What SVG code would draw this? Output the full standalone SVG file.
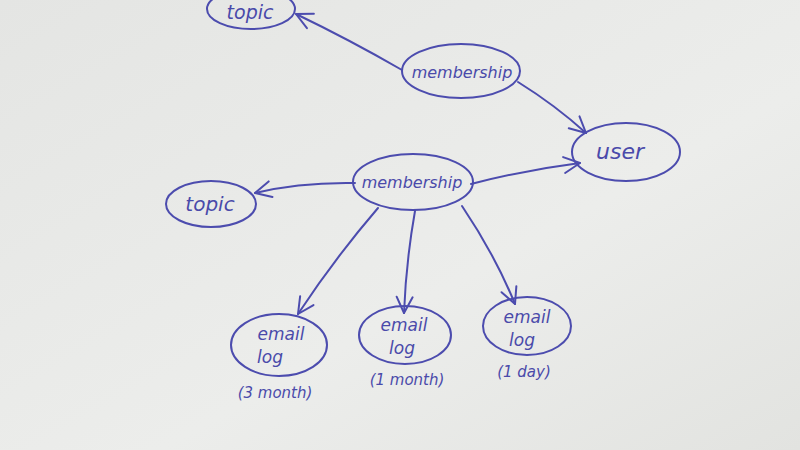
<svg xmlns="http://www.w3.org/2000/svg" width="800" height="450" viewBox="0 0 800 450">
<defs>
<linearGradient id="bg" x1="0" y1="0" x2="1" y2="1">
<stop offset="0" stop-color="#e4e5e3"/>
<stop offset="0.6" stop-color="#ecedeb"/>
<stop offset="1" stop-color="#e2e3e0"/>
</linearGradient>
<marker id="arr" viewBox="0 0 20 20" refX="18" refY="10" markerWidth="20" markerHeight="20" markerUnits="userSpaceOnUse" orient="auto">
<path d="M2,2 L18,10 L2,18" fill="none" stroke="#4c4cae" stroke-width="2" stroke-linecap="round" stroke-linejoin="round"/>
</marker>
<style>
.n{fill:none;stroke:#4c4cae;stroke-width:2}
.t{font-family:"DejaVu Sans",sans-serif;font-style:italic;fill:#4a4aaa;text-anchor:middle}
.c{fill:none;stroke:#4c4cae;stroke-width:2;stroke-linecap:round;marker-end:url(#arr)}
</style>
</defs>
<rect width="800" height="450" fill="url(#bg)"/>
<g id="connectors">
<path class="c" d="M402,70 Q350,40 296,14"/>
<path class="c" d="M518,82 Q555,105 586,133"/>
<path class="c" d="M355,183 Q300,182 255,193"/>
<path class="c" d="M471,184 Q525,170 580,163"/>
<path class="c" d="M378,208 Q335,258 298,314"/>
<path class="c" d="M415,211 Q406,262 404,313"/>
<path class="c" d="M462,206 Q495,255 515,304"/>
</g>
<g id="topic-top">
<ellipse class="n" cx="251" cy="9" rx="44" ry="20"/>
<text class="t" x="250" y="19" font-size="19">topic</text>
</g>
<g id="membership-top">
<ellipse class="n" cx="461" cy="71" rx="59" ry="27"/>
<text class="t" x="462" y="78" font-size="16">membership</text>
</g>
<g id="user">
<ellipse class="n" cx="626" cy="152" rx="54" ry="29"/>
<text class="t" x="620" y="159" font-size="22">user</text>
</g>
<g id="membership-mid">
<ellipse class="n" cx="413" cy="182" rx="60" ry="28"/>
<text class="t" x="412" y="188" font-size="16">membership</text>
</g>
<g id="topic-left">
<ellipse class="n" cx="211" cy="204" rx="45" ry="23"/>
<text class="t" x="210" y="211" font-size="20">topic</text>
</g>
<g id="email-log-3month">
<ellipse class="n" cx="279" cy="345" rx="48" ry="31"/>
<text class="t" x="281" y="340" font-size="17">email</text>
<text class="t" x="270" y="363" font-size="17">log</text>
<text class="t" x="275" y="398" font-size="15">(3 month)</text>
</g>
<g id="email-log-1month">
<ellipse class="n" cx="405" cy="335" rx="46" ry="29"/>
<text class="t" x="404" y="331" font-size="17">email</text>
<text class="t" x="402" y="354" font-size="17">log</text>
<text class="t" x="407" y="385" font-size="15">(1 month)</text>
</g>
<g id="email-log-1day">
<ellipse class="n" cx="527" cy="326" rx="44" ry="29"/>
<text class="t" x="527" y="323" font-size="17">email</text>
<text class="t" x="522" y="346" font-size="17">log</text>
<text class="t" x="524" y="377" font-size="15">(1 day)</text>
</g>
</svg>
